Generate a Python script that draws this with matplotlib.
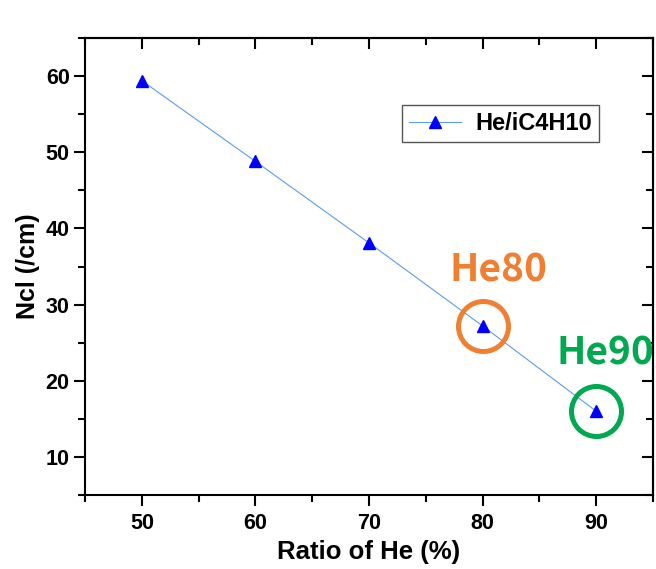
import numpy as np
import matplotlib
matplotlib.use('Agg')
import matplotlib.pyplot as plt

## Data
ratio_he = [50, 60, 70, 80, 90]
ncl = [59.4, 48.8, 38.1, 27.2, 16.0]
series_name = 'He/iC4H10'

# highlighted mixtures
marked_x = [80, 90]
marked_y = [27.2, 16.0]
marked_labels = ['He80', 'He90']
marked_colors = ['#F07F32', '#00A850']
label_offsets = [(16, 56), (9, 58)]  # pixels from circle centre

plt.rcParams['font.family'] = ['Liberation Sans', 'DejaVu Sans']

fig = plt.figure(figsize=(6.56, 5.69), dpi=100)
ax = fig.add_axes([0.1296, 0.130, 0.8658, 0.8032])

ax.plot(ratio_he, ncl, color='#5B9BF0', lw=0.8, marker='^', markersize=9,
        markerfacecolor='#0000FF', markeredgecolor='#0000FF', label=series_name)

# circles + labels around the two highlighted points
for x, y, lab, c, off in zip(marked_x, marked_y, marked_labels, marked_colors, label_offsets):
    ax.plot([x], [y], marker='o', markersize=36, markerfacecolor='none',
            markeredgecolor=c, markeredgewidth=3.6, linestyle='none')
    ax.annotate(lab, (x, y), xytext=off, textcoords='offset pixels',
                ha='center', va='center', fontsize=28, fontweight='bold', color=c,
                family=['Noto Sans CJK SC', 'DejaVu Sans'], annotation_clip=False)

ax.set_xlim(45, 95)
ax.set_ylim(5, 65)
ax.set_xticks([50, 60, 70, 80, 90])
ax.set_yticks([10, 20, 30, 40, 50, 60])
ax.set_xticks(np.arange(45, 96, 5), minor=True)
ax.set_yticks(np.arange(5, 66, 5), minor=True)

for s in ax.spines.values():
    s.set_linewidth(1.5)

ax.tick_params(which='both', direction='out', width=1.5, top=False, right=False)
ax.tick_params(which='major', length=8, labelsize=15.5)
ax.tick_params(axis='y', which='major', pad=3)
ax.tick_params(axis='x', which='major', pad=5)
ax.tick_params(which='minor', length=5)
for lbl in ax.get_xticklabels() + ax.get_yticklabels():
    lbl.set_fontweight('bold')

# inward ticks on top and right
sec_x = ax.secondary_xaxis('top')
sec_x.set_xticks([50, 60, 70, 80, 90])
sec_x.set_xticks(np.arange(45, 96, 5), minor=True)
sec_x.tick_params(which='both', direction='in', width=1.5, labeltop=False)
sec_x.tick_params(which='major', length=8)
sec_x.tick_params(which='minor', length=5)
sec_x.spines['top'].set_linewidth(1.5)
sec_y = ax.secondary_yaxis('right')
sec_y.set_yticks([10, 20, 30, 40, 50, 60])
sec_y.set_yticks(np.arange(5, 66, 5), minor=True)
sec_y.tick_params(which='both', direction='in', width=1.5, labelright=False)
sec_y.tick_params(which='major', length=8)
sec_y.tick_params(which='minor', length=5)
sec_y.spines['right'].set_linewidth(1.5)

ax.set_xlabel('Ratio of He (%)', fontsize=18.5, fontweight='bold', labelpad=4)
ax.set_ylabel('Ncl (/cm)', fontsize=18, fontweight='bold', labelpad=4)

leg = ax.legend(loc='upper left', bbox_to_anchor=(0.558, 0.853), borderaxespad=0,
                fancybox=False, edgecolor='#555555', framealpha=1,
                prop={'weight': 'bold', 'size': 17}, handlelength=2.2,
                borderpad=0.3, handletextpad=0.6)
leg.get_frame().set_linewidth(1.0)

fig.savefig('out.png', dpi=100)
